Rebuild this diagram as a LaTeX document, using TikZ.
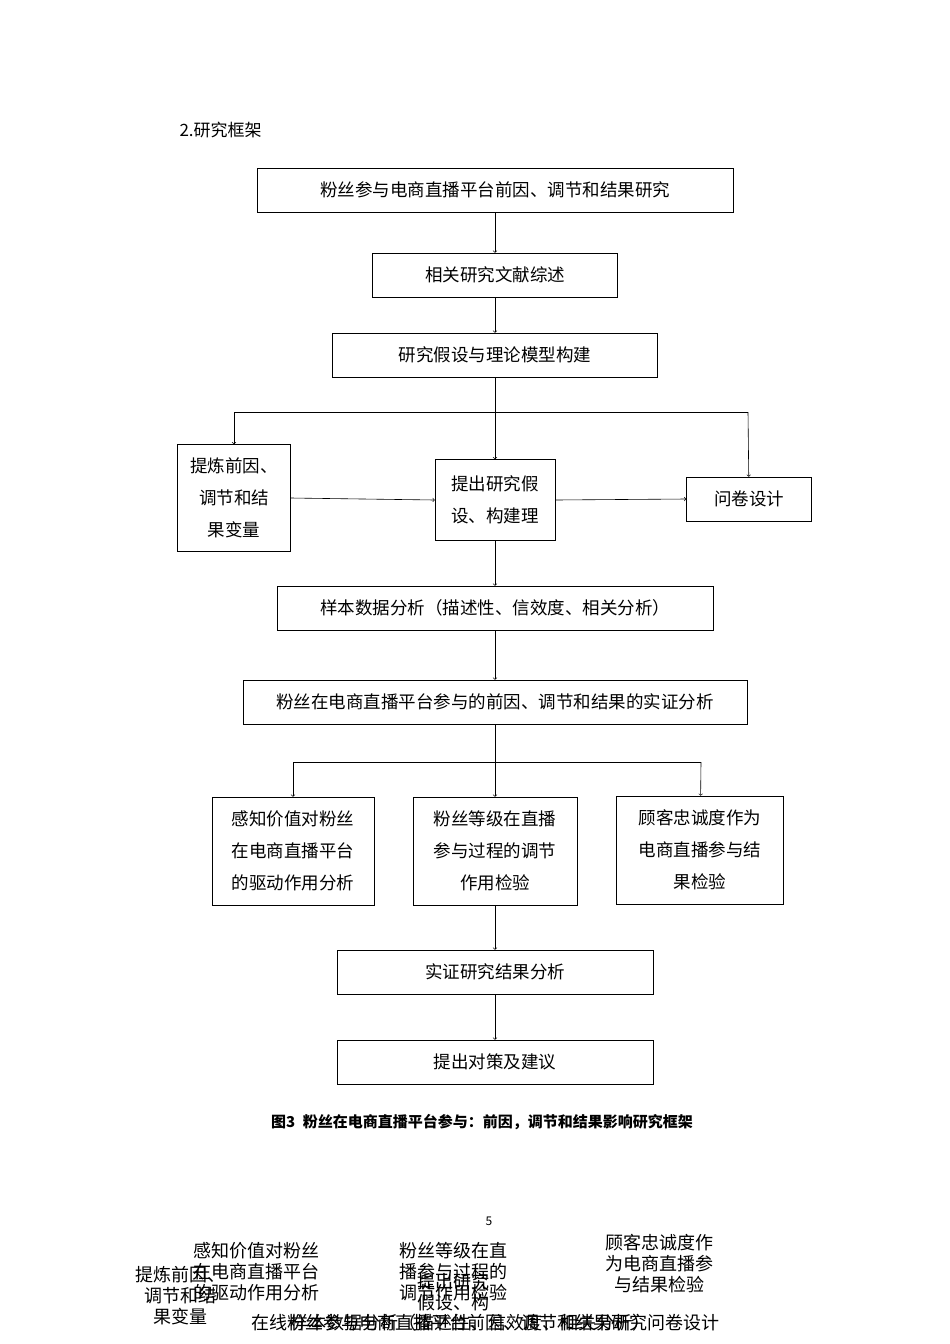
\documentclass[tikz,border=0pt]{standalone}
\usepackage{fontspec}
\setmainfont{Noto Sans CJK SC}
\usetikzlibrary{positioning}
\tikzset{
	box/.style={draw,semithick,minimum height=44pt,font=\fontsize{17.5}{32}\selectfont,align=center,inner sep=2pt},
	line/.style={semithick},
	arr/.style={semithick,->}
}
\begin{document}
\begin{tikzpicture}[x=1pt,y=-1pt]
	\useasboundingbox (0,0) rectangle (950,1344);
	\node[anchor=west,font=\fontsize{17}{18}\selectfont] (head) at (176,130) {2.研究框架};
	\node[box,minimum width=476pt] (topic) at (495,190) {粉丝参与电商直播平台前因、调节和结果研究};
	\node[box,minimum width=245pt] (review) at (495,275) {相关研究文献综述};
	\node[box,minimum width=325pt] (model) at (495,355) {研究假设与理论模型构建};
	\node[box,minimum width=113pt,minimum height=107pt] (vars) at (234,498) {提炼前因、\\调节和结\\果变量};
	\node[box,minimum width=120pt,minimum height=81pt] (hypo) at (495,500) {提出研究假\\设、构建理};
	\node[box,minimum width=125pt] (quest) at (749,499) {问卷设计};
	\node[box,minimum width=436pt] (sample) at (495,608) {样本数据分析（描述性、信效度、相关分析）};
	\node[box,minimum width=504pt] (emp) at (495,702) {粉丝在电商直播平台参与的前因、调节和结果的实证分析};
	\node[box,minimum width=162pt,minimum height=108pt] (value) at (293,851) {感知价值对粉丝\\在电商直播平台\\的驱动作用分析};
	\node[box,minimum width=164pt,minimum height=108pt] (level) at (495,851) {粉丝等级在直播\\参与过程的调节\\作用检验};
	\node[box,minimum width=167pt,minimum height=108pt] (loyal) at (700,850) {顾客忠诚度作为\\电商直播参与结\\果检验};
	\node[box,minimum width=316pt] (result) at (495,972) {实证研究结果分析};
	\node[box,minimum width=316pt] (advice) at (495,1062) {提出对策及建议};
	\node[font=\bfseries\fontsize{15}{16}\selectfont] (cap) at (482,1122) {图3\enspace 粉丝在电商直播平台参与：前因，调节和结果影响研究框架};
	\node[font=\fontsize{12}{14}\selectfont] (page) at (489,1221) {5};
	% connectors
	\draw[arr] (topic) -- (review);
	\draw[arr] (review) -- (model);
	\draw[line] (model) -- (495,412) coordinate (split1);
	\draw[line] (234,412) -- (748,412);
	\draw[arr] (234,412) -- (vars);
	\draw[arr] (split1) -- (hypo);
	\draw[arr] (748,412) -- (quest);
	\draw[arr] (vars.east) -- (hypo.west);
	\draw[arr] (hypo.east) -- (quest.west);
	\draw[arr] (hypo) -- (sample);
	\draw[arr] (sample) -- (emp);
	\draw[line] (emp) -- (495,762) coordinate (split2);
	\draw[line] (293,762) -- (701,762);
	\draw[arr] (293,762) -- (value);
	\draw[arr] (split2) -- (level);
	\draw[arr] (701,762) -- (loyal);
	\draw[arr] (level) -- (result);
	\draw[arr] (result) -- (advice);
	% overflow text
	\begin{scope}[every node/.style={font=\fontsize{18}{21}\selectfont,align=center}]
		\node (o1) at (256,1272) {感知价值对粉丝\\在电商直播平台\\的驱动作用分析};
		\node (o2) at (180,1296) {提炼前因、\\调节和结\\果变量};
		\node (o3) at (453,1272) {粉丝等级在直\\播参与过程的\\调节作用检验};
		\node (o4) at (453,1292) {提出研究\\假设、构};
		\node (o5) at (659,1264) {顾客忠诚度作\\为电商直播参\\与结果检验};
		\node (o6) at (485,1323) {在线粉丝参与电商直播平台前因、调节和结果研究问卷设计};
		\node (o7) at (470,1323) {样本数据分析（描述性、信效度、相关分析）};
	\end{scope}
\end{tikzpicture}
\end{document}
